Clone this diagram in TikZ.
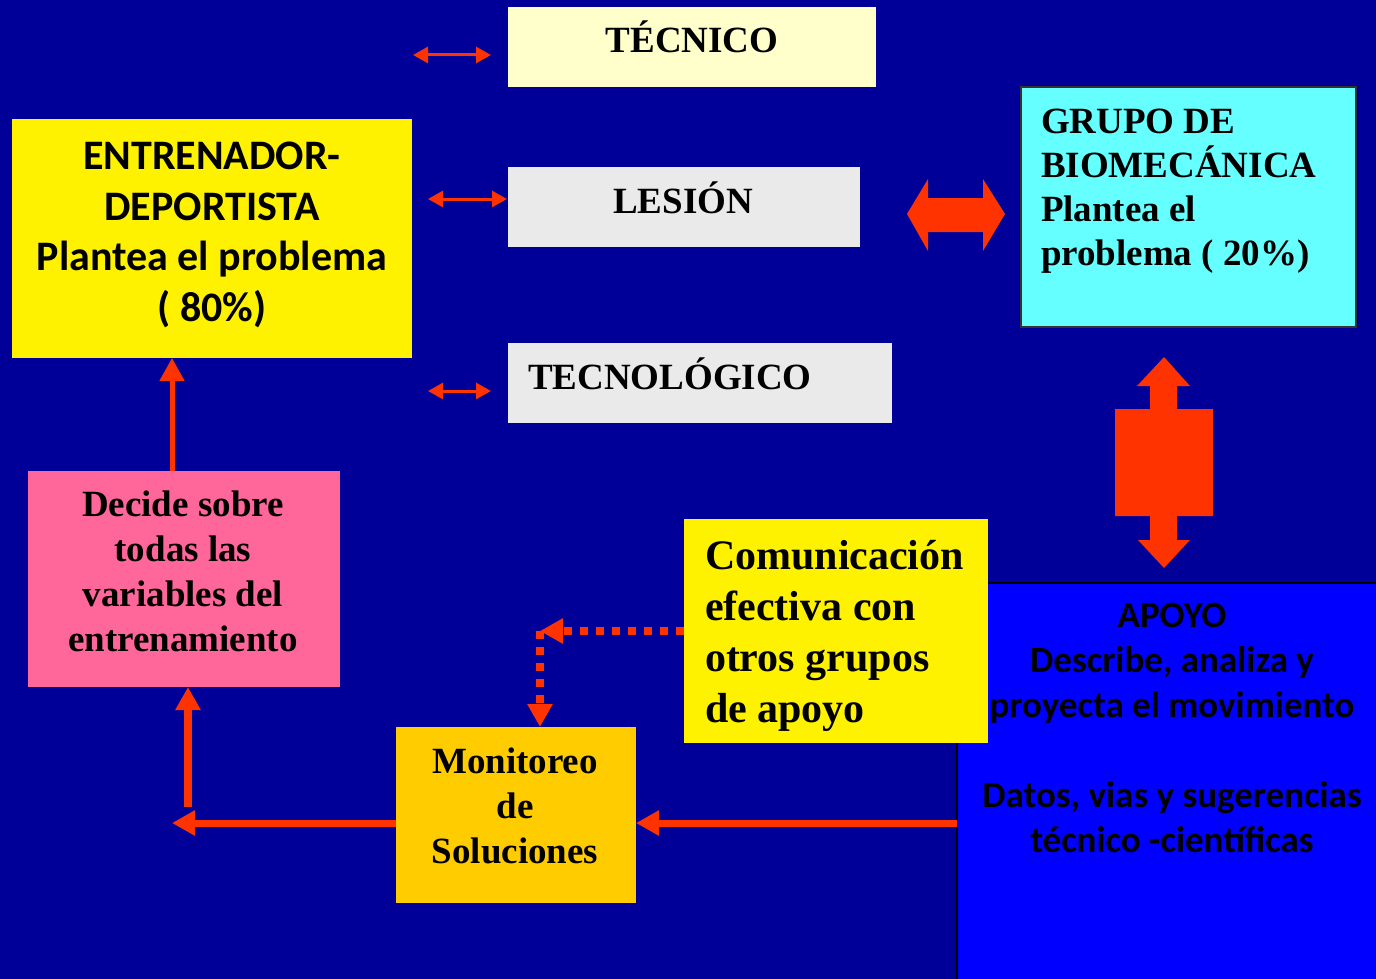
\documentclass[tikz,border=0pt]{standalone}
\usepackage{fontspec}
\setmainfont{Liberation Serif}
\newfontfamily\carlito{Carlito}
\usetikzlibrary{arrows.meta}
\definecolor{bgblue}{HTML}{000099}
\definecolor{arrred}{HTML}{FF3300}
\definecolor{paleyellow}{HTML}{FFFFCC}
\definecolor{lightgrey}{HTML}{EAEAEA}
\definecolor{cyanbox}{HTML}{66FFFF}
\definecolor{pinkbox}{HTML}{FF6699}
\definecolor{orangebox}{HTML}{FFCC00}
\definecolor{apoyoblue}{HTML}{0000FF}
\begin{document}
\begin{tikzpicture}[x=1pt,y=-1pt,
  box/.style={rectangle,inner sep=0pt,outer sep=0pt},
  seriftxt/.style={inner sep=0pt,outer sep=0pt,font=\fontsize{37}{45}\selectfont\bfseries},
  sanstxt/.style={inner sep=0pt,outer sep=0pt,font=\carlito\fontsize{37}{45}\selectfont\bfseries},
  thinarrow/.style={draw=arrred,line width=3pt,{Triangle[length=15pt,width=16pt]}-{Triangle[length=15pt,width=16pt]}},
  flow/.style={draw=arrred,line width=7pt,-{Triangle[length=23pt,width=24pt]}},
  dotflow/.style={draw=arrred,line width=8pt,dash pattern=on 8pt off 8pt,-{Triangle[length=23pt,width=24pt]}},
  bigarrow/.style={fill=arrred}]
% background
\fill[bgblue] (0,0) rectangle (1376,979);
\useasboundingbox (0,0) rectangle (1376,979);

% boxes
\node[box,fill=paleyellow,minimum width=368pt,minimum height=80pt] (tecnico) at (692,47) {};
\node[box,fill=lightgrey,minimum width=352pt,minimum height=80pt] (lesion) at (684,207) {};
\node[box,fill=lightgrey,minimum width=384pt,minimum height=80pt] (tecno) at (700,383) {};
\node[box,fill=yellow,minimum width=400pt,minimum height=239pt] (entren) at (212,238.5) {};
\node[box,fill=cyanbox,draw=black!80,line width=2pt,minimum width=335pt,minimum height=239pt] (grupo) at (1188.5,207) {};
\node[box,fill=pinkbox,minimum width=312pt,minimum height=216pt] (decide) at (184,579) {};
\node[box,fill=apoyoblue,draw=black,line width=2pt,minimum width=430pt,minimum height=410pt] (apoyo) at (1172,788) {};
\node[box,fill=yellow,minimum width=304pt,minimum height=224pt] (comunic) at (836,631) {};
\node[box,fill=orangebox,minimum width=240pt,minimum height=176pt] (monitor) at (516,815) {};

% texts (anchor = baseline of the last line)
\node[seriftxt,anchor=base] (tecnicoT) at (692,53) {TÉCNICO};
\node[seriftxt,anchor=base] (lesionT) at (683,213) {LESIÓN};
\node[seriftxt,anchor=base west] (tecnoT) at (528,389) {TECNOLÓGICO};
\node[sanstxt,font=\carlito\fontsize{42}{50.5}\selectfont\bfseries,align=center,anchor=base] (entrenT) at (212,321)
  {ENTRENADOR-\\DEPORTISTA\\Plantea el problema\\( 80\%)};
\node[seriftxt,font=\fontsize{37}{44}\selectfont\bfseries,align=left,anchor=base west] (grupoT) at (1041,265)
  {GRUPO DE\\BIOMECÁNICA\\Plantea el\\problema ( 20\%)};
\node[seriftxt,font=\fontsize{37}{44.7}\selectfont\bfseries,align=center,anchor=base] (decideT) at (183,651)
  {Decide sobre\\todas las\\variables del\\entrenamiento};
\node[seriftxt,font=\fontsize{42}{51}\selectfont\bfseries,align=left,anchor=base west] (comunicT) at (705,722)
  {Comunicación\\efectiva con\\otros grupos\\de apoyo};
\node[seriftxt,align=center,anchor=base] (monitorT) at (515,863)
  {Monitoreo\\de\\Soluciones};
\node[sanstxt,align=center,anchor=base] (apoyoT) at (1172,852)
  {APOYO\\Describe, analiza y\\proyecta el movimiento\\[45pt]Datos, vias y sugerencias\\técnico -científicas};

% thin double arrows
\coordinate (a1l) at (413,55); \coordinate (a1r) at (491,55);
\coordinate (a2l) at (428,199); \coordinate (a2r) at (507,199);
\coordinate (a3l) at (428,391); \coordinate (a3r) at (491,391);
\draw[thinarrow] (a1l) -- (a1r);
\draw[thinarrow] (a2l) -- (a2r);
\draw[thinarrow] (a3l) -- (a3r);

% big block arrows
\fill[bigarrow] (907,214) -- (928,179) -- (928,198) -- (983,198) -- (983,179) -- (1005,214)
  -- (983,251) -- (983,232) -- (928,232) -- (928,251) -- cycle;
\fill[bigarrow] (1164,357) -- (1190,386) -- (1177,386) -- (1177,409) -- (1213,409) -- (1213,516)
  -- (1177,516) -- (1177,540) -- (1190,540) -- (1164,568) -- (1138,540) -- (1150,540) -- (1150,516)
  -- (1115,516) -- (1115,409) -- (1150,409) -- (1150,386) -- (1137,386) -- cycle;

% flow arrows
\coordinate (flowy) at (0,823);
\draw[flow,line width=5pt] ([xshift=-12pt]decide.north) -- ([xshift=-40pt]entren.south);
\draw[flow] (apoyo.west |- flowy) -- (monitor.east |- flowy);
\coordinate (blcorner) at (172,823);
\draw[flow] (monitor.west |- flowy) -- (blcorner);
\coordinate (blstart) at (188,807);
\draw[flow,line width=8pt] (blstart) -- (blstart |- decide.south);

% dotted arrow
\coordinate (dcorner) at (540,631);
\draw[dotflow] (comunic.west) -- (dcorner);
\draw[dotflow] (dcorner) -- (dcorner |- monitor.north);
\end{tikzpicture}
\end{document}
